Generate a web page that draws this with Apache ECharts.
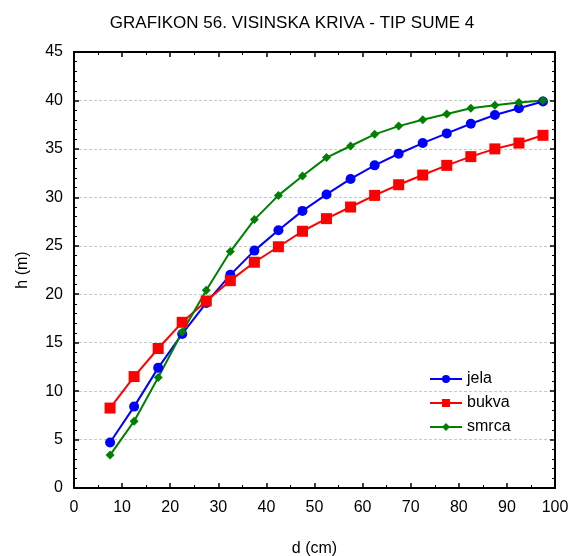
<!DOCTYPE html>
<html><head><meta charset="utf-8">
<script src="https://cdn.jsdelivr.net/npm/echarts@6/dist/echarts.min.js"></script>
<style>html,body{margin:0;padding:0;background:#fff}#c{width:571px;height:556px}</style>
</head><body><div id="c"></div>
<script>
const dValues = [7.5,12.5,17.5,22.5,27.5,32.5,37.5,42.5,47.5,52.5,57.5,62.5,67.5,72.5,77.5,82.5,87.5,92.5,97.5];
const jela  = [4.7,8.4,12.4,15.9,19.1,22.0,24.5,26.6,28.6,30.3,31.9,33.3,34.5,35.6,36.6,37.6,38.5,39.2,39.9];
const bukva = [8.25,11.5,14.4,17.1,19.3,21.4,23.3,24.9,26.5,27.8,29.0,30.2,31.3,32.3,33.3,34.2,35.0,35.6,36.4];
const smrca = [3.4,6.9,11.4,16.1,20.4,24.4,27.7,30.2,32.2,34.1,35.3,36.5,37.35,38.0,38.6,39.2,39.5,39.8,40.0];
const seriesNames = ['jela','bukva','smrca'];
const titleText = 'GRAFIKON 56. VISINSKA KRIVA - TIP SUME 4';
const xName = 'd (cm)', yName = 'h (m)';

const font = 'Arial, "Liberation Sans", sans-serif';
const pair = arr => dValues.map((d,i)=>[d,arr[i]]);
const axisLine = {show:true, onZero:false, lineStyle:{color:'#000', width:2}};
const tick = {show:true, inside:true, length:5, lineStyle:{color:'#000', width:1.5}};
const chart = echarts.init(document.getElementById('c'));
chart.setOption({
  animation:false,
  backgroundColor:'#fff',
  title:{text:titleText, left:287, top:10, textAlign:'center',
    textStyle:{fontFamily:font, fontSize:17, fontWeight:'normal', color:'#000'}},
  grid:{left:74, right:16, top:52, bottom:68, containLabel:false, outerBoundsMode:'none'},
  legend:{orient:'vertical', left:424, top:366, itemWidth:32, itemHeight:10, itemGap:8,
    textStyle:{fontFamily:font, fontSize:16, color:'#000'}, data:seriesNames},
  xAxis:[
    {type:'value', min:0, max:100, interval:10, position:'bottom',
     name:xName, nameLocation:'middle', nameGap:53,
     nameTextStyle:{fontFamily:font, fontSize:16, color:'#000'},
     axisLine:axisLine, axisTick:tick,
     minorTick:{show:true, splitNumber:2, length:3, lineStyle:{color:'#000'}},
     axisLabel:{fontFamily:font, fontSize:16, color:'#000', margin:12},
     splitLine:{show:false}},
    {type:'value', min:0, max:100, interval:10, position:'top',
     axisLine:axisLine, axisTick:tick,
     minorTick:{show:true, splitNumber:2, length:3, lineStyle:{color:'#000'}},
     axisLabel:{show:false}, splitLine:{show:false}}
  ],
  yAxis:[
    {type:'value', min:0, max:45, interval:5, position:'left',
     name:yName, nameLocation:'middle', nameGap:43,
     nameTextStyle:{fontFamily:font, fontSize:16, color:'#000'},
     axisLine:axisLine, axisTick:tick,
     minorTick:{show:true, splitNumber:5, length:3, lineStyle:{color:'#000'}},
     axisLabel:{fontFamily:font, fontSize:16, color:'#000', margin:11},
     splitLine:{show:true, lineStyle:{color:'#c8c8c8', type:[3,2], width:1}}},
    {type:'value', min:0, max:45, interval:5, position:'right',
     axisLine:axisLine, axisTick:tick,
     minorTick:{show:true, splitNumber:5, length:3, lineStyle:{color:'#000'}},
     axisLabel:{show:false}, splitLine:{show:false}}
  ],
  series:[
    {name:seriesNames[0], type:'line', data:pair(jela), symbol:'circle', symbolSize:10,
     itemStyle:{color:'#0000ff'}, lineStyle:{color:'#0000ff', width:2}},
    {name:seriesNames[1], type:'line', data:pair(bukva), symbol:'rect', symbolSize:11,
     itemStyle:{color:'#ff0000'}, lineStyle:{color:'#ff0000', width:2}},
    {name:seriesNames[2], type:'line', data:pair(smrca), symbol:'diamond', symbolSize:9,
     itemStyle:{color:'#008000'}, lineStyle:{color:'#008000', width:2}}
  ]
});
</script></body></html>
